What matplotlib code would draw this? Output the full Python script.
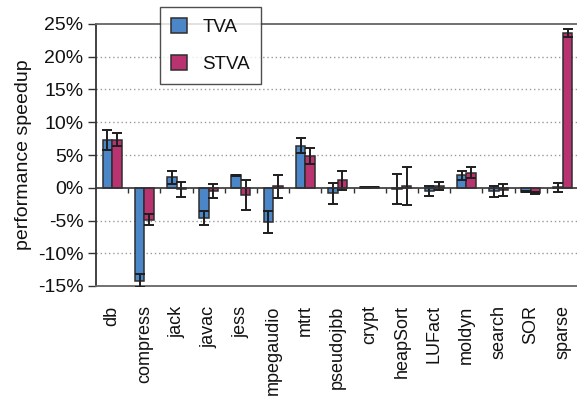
import matplotlib
matplotlib.use("Agg")
import matplotlib.pyplot as plt
import numpy as np
from matplotlib.ticker import FuncFormatter

plt.rcParams['font.family'] = ['Liberation Sans', 'DejaVu Sans']

benchmarks = ["db", "compress", "jack", "javac", "jess", "mpegaudio", "mtrt",
              "pseudojbb", "crypt", "heapSort", "LUFact", "moldyn", "search",
              "SOR", "sparse"]

tva = [7.3, -14.2, 1.6, -4.6, 1.9, -5.25, 6.4, -0.85, 0.05, -0.2, -0.45, 1.9,
       -0.55, -0.6, 0.05]
tva_err = [1.5, 1.0, 1.0, 1.1, 0.1, 1.65, 1.15, 1.6, 0.05, 2.35, 0.75, 0.7,
           0.8, 0.1, 0.65]

stva = [7.3, -4.9, -0.25, -0.5, -1.1, 0.2, 4.9, 1.15, 0.1, 0.2, 0.3, 2.3,
        -0.35, -0.8, 23.6]
stva_err = [1.0, 0.85, 1.2, 1.0, 2.25, 1.75, 1.2, 1.45, 0.05, 2.9, 0.65, 0.8,
            0.85, 0.1, 0.6]

yticks = [-15, -10, -5, 0, 5, 10, 15, 20, 25]

W, H = 577, 398
fig = plt.figure(figsize=(W / 100, H / 100), dpi=100)
ax = fig.add_axes([96 / W, (H - 286) / H, 483 / W, 262 / H])

n = len(benchmarks)
x = np.arange(n) + 0.5
bw = 0.295
c_tva = "#4a86c8"
c_stva = "#b8336f"
edge = "#2e2e2e"

ax.bar(x - bw / 2, tva, bw, color=c_tva, edgecolor=edge, linewidth=1.1,
       label="TVA", zorder=3)
ax.bar(x + bw / 2, stva, bw, color=c_stva, edgecolor=edge, linewidth=1.1,
       label="STVA", zorder=3)
ax.errorbar(x - bw / 2, tva, yerr=tva_err, fmt="none", ecolor="#1e1e1e",
            elinewidth=1.4, capsize=3.8, capthick=1.4, zorder=4)
ax.errorbar(x + bw / 2, stva, yerr=stva_err, fmt="none", ecolor="#1e1e1e",
            elinewidth=1.4, capsize=3.8, capthick=1.4, zorder=4)

ax.set_xlim(0, n)
ax.set_ylim(-15, 25)

# dotted grid at the inner 5% steps
for g in [-10, -5, 5, 10, 15, 20]:
    ax.axhline(g, color="#9a9a9a", linestyle=(0, (1, 2)), linewidth=1.0, zorder=1)

# zero baseline with category separator ticks hanging below it
ax.axhline(0, color="#333333", linewidth=1.2, zorder=5)
ax.vlines(np.arange(1, n), -0.75, 0, color="#333333", linewidth=1.0, zorder=5)

ax.set_yticks(yticks)
ax.yaxis.set_major_formatter(FuncFormatter(lambda v, p: f"{int(v)}%"))
ax.tick_params(axis="y", direction="out", length=6, width=1.0, colors="#333333",
               labelcolor="#111111", labelsize=14, pad=3)

ax.set_xticks(x)
ax.set_xticklabels(benchmarks, rotation=90, fontsize=13, color="#111111")
ax.tick_params(axis="x", length=0, pad=14)

for s in ["top", "bottom"]:
    ax.spines[s].set_color("#666666")
    ax.spines[s].set_linewidth(1.3)
ax.spines["left"].set_color("#333333")
ax.spines["left"].set_linewidth(1.3)
ax.spines["right"].set_visible(False)

ax.set_ylabel("performance speedup", fontsize=14, labelpad=4, color="#111111")

leg = ax.legend(loc="upper left", bbox_to_anchor=(160 / W, 1 - 7 / H),
                bbox_transform=fig.transFigure, frameon=True, fancybox=False,
                fontsize=13.5, handlelength=0.85, handleheight=0.85,
                handletextpad=0.8, labelspacing=1.0, borderpad=0.6,
                borderaxespad=0)
leg.get_frame().set_edgecolor("#222222")
leg.get_frame().set_linewidth(1.0)
leg.set_zorder(10)
for t in leg.get_texts():
    t.set_color("#111111")

fig.savefig("out.png", dpi=100)
